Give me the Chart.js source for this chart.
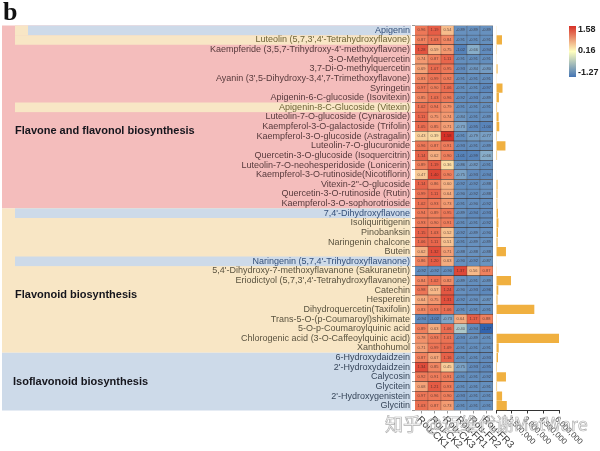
<!DOCTYPE html>
<html>
<head>
<meta charset="utf-8">
<script src="https://cdn.jsdelivr.net/npm/chart.js@4"></script>
<style>
html, body { margin: 0; padding: 0; background: #fff; }
#wrap { position: relative; width: 600px; height: 451px; overflow: hidden; }
canvas { position: absolute; left: 0; top: 0; filter: blur(0.35px); }
</style>
</head>
<body>
<div id="wrap">
  <canvas id="heat" width="600" height="451"></canvas>
  <canvas id="bars" width="600" height="451"></canvas>
</div>
<script>
const compounds = [
  "Apigenin", "Luteolin (5,7,3',4'-Tetrahydroxyflavone)", "Kaempferide (3,5,7-Trihydroxy-4'-methoxyflavone)",
  "3-O-Methylquercetin", "3,7-Di-O-methylquercetin", "Ayanin (3',5-Dihydroxy-3,4',7-Trimethoxyflavone)",
  "Syringetin", "Apigenin-6-C-glucoside (Isovitexin)", "Apigenin-8-C-Glucoside (Vitexin)",
  "Luteolin-7-O-glucoside (Cynaroside)", "Kaempferol-3-O-galactoside (Trifolin)", "Kaempferol-3-O-glucoside (Astragalin)",
  "Luteolin-7-O-glucuronide", "Quercetin-3-O-glucoside (Isoquercitrin)", "Luteolin-7-O-neohesperidoside (Lonicerin)",
  "Kaempferol-3-O-rutinoside(Nicotiflorin)", "Vitexin-2\"-O-glucoside", "Quercetin-3-O-rutinoside (Rutin)",
  "Kaempferol-3-O-sophorotrioside", "7,4'-Dihydroxyflavone", "Isoliquiritigenin", "Pinobanksin", "Naringenin chalcone",
  "Butein", "Naringenin (5,7,4'-Trihydroxyflavanone)", "5,4'-Dihydroxy-7-methoxyflavanone (Sakuranetin)",
  "Eriodictyol (5,7,3',4'-Tetrahydroxyflavanone)", "Catechin", "Hesperetin", "Dihydroquercetin(Taxifolin)",
  "Trans-5-O-(p-Coumaroyl)shikimate", "5-O-p-Coumaroylquinic acid", "Chlorogenic acid (3-O-Caffeoylquinic acid)",
  "Xanthohumol", "6-Hydroxydaidzein", "2'-Hydroxydaidzein", "Calycosin", "Glycitein", "2'-Hydroxygenistein", "Glycitin"
];
const samples = ["Rou-CK1", "Rou-CK2", "Rou-CK3", "Rou-FR1", "Rou-FR2", "Rou-FR3"];

const ck1 = [0.96,0.87,1.28,0.74,0.69,0.83,0.97,0.85,1.02,1.11,1.05,0.43,0.96,1.14,0.89,0.47,1.14,0.99,1.02,0.94,0.93,1.15,1.06,0.62,0.86,-0.92,0.84,0.98,0.64,0.83,-0.94,0.89,0.78,0.71,0.87,1.34,0.92,0.68,0.97,1.03];
const ck2 = [1.19,1.03,0.59,0.87,1.07,0.99,0.90,1.03,0.94,0.75,0.85,0.39,0.87,0.62,1.19,1.40,0.86,1.11,0.93,0.89,0.90,1.03,1.11,1.32,1.20,-0.92,1.02,0.57,0.75,0.93,-1.02,0.63,0.93,0.99,0.67,0.85,0.91,1.21,0.96,0.87];
const ck3 = [0.54,0.84,0.75,1.11,0.95,0.92,1.06,0.96,0.79,0.74,0.71,1.58,0.91,0.90,0.36,0.90,0.60,0.64,0.73,0.95,0.91,0.52,0.51,0.71,0.63,-0.90,0.82,1.24,1.31,1.06,-0.73,1.06,1.01,1.09,1.16,0.45,0.91,0.93,0.90,0.73];
const fr1 = [-0.89,-0.91,-1.02,-0.91,-0.93,-0.91,-0.91,-0.92,-0.91,-0.84,-0.73,-0.91,-0.93,-1.01,-0.86,-0.75,-0.92,-0.90,-0.91,-0.89,-0.91,-0.92,-0.91,-0.88,-0.90,1.37,-0.89,-0.90,-0.92,-0.91,0.64,-0.40,-0.93,-0.91,-0.91,-0.75,-0.91,-0.91,-0.93,-0.91];
const fr2 = [-0.89,-0.91,-0.66,-0.91,-0.84,-0.91,-0.91,-0.93,-0.91,-0.91,-0.95,-0.79,-0.91,-0.99,-0.82,-0.93,-0.92,-0.92,-0.90,-0.94,-0.91,-0.89,-0.89,-0.88,-0.92,0.56,-0.91,-0.93,-0.90,-0.91,1.17,-0.94,-0.89,-0.91,-0.91,-0.93,-0.91,-0.91,-0.91,-0.91];
const fr3 = [-0.89,-0.91,-0.94,-0.91,-0.80,-0.91,-0.97,-0.89,-0.91,-0.89,-1.00,-0.77,-0.89,-0.66,-0.91,-0.94,-0.88,-0.88,-0.92,-0.93,-0.92,-0.90,-0.89,-0.88,-0.87,0.87,-0.89,-0.96,-0.87,-0.91,0.88,-1.27,-0.91,-0.91,-0.93,-0.95,-0.92,-0.91,-0.91,-0.91];
const heatColumns = [ck1, ck2, ck3, fr1, fr2, fr3];

const abundance = [60000,570000,80000,60000,150000,60000,620000,280000,100000,250000,310000,90000,900000,100000,50000,40000,150000,140000,130000,190000,230000,190000,150000,950000,40000,30000,1430000,220000,140000,3650000,25000,30000,6050000,260000,190000,90000,950000,100000,580000,1030000];
const abundanceTicks = ["1,500,000", "3,000,000", "4,500,000", "6,000,000"];

const colorTicks = ["1.58", "0.16", "-1.27"];
const groupNames = ["Flavone and flavonol biosynthesis", "Flavonoid biosynthesis", "Isoflavonoid biosynthesis"];
const groupSizes = [19, 15, 6];
const blueRows = [0, 19, 24];
const yellowRows = [1, 8];

const RED = '#f4bdbc', YELLOW = '#f8e6c5', BLUE = '#cddae9';

function mix(a, b, t) {
  return 'rgb(' + a.map((v, i) => Math.round(v + (b[i] - v) * t)).join(',') + ')';
}
function heatColor(v) {
  const cream = [255,255,191];
  if (v >= 0.16) {
    const t = (v - 0.16) / 1.42;
    return t < 0.5 ? mix(cream, [240,130,95], t * 2) : mix([240,130,95], [215,48,39], (t - 0.5) * 2);
  }
  const t = (0.16 - v) / 1.43;
  return t < 0.5 ? mix(cream, [150,185,205], t * 2) : mix([150,185,205], [50,100,175], (t - 0.5) * 2);
}
function rowGroup(i) {
  return i < groupSizes[0] ? 0 : i < groupSizes[0] + groupSizes[1] ? 1 : 2;
}
function labelColor(i) {
  if (blueRows.includes(i)) return '#34507a';
  if (yellowRows.includes(i)) return '#6f6538';
  return ['#573a3c', '#5a5340', '#37465a'][rowGroup(i)];
}

// coloured strips behind the compound names, group titles, cell numbers
const heatPlugin = {
  id: 'heatExtras',
  beforeDraw(chart) {
    const ctx = chart.ctx, y = chart.scales.y;
    const step = y.getPixelForValue(1) - y.getPixelForValue(0);
    const top = i => y.getPixelForValue(i) - step / 2;
    const right = 411;
    let start = 0;
    [RED, YELLOW, BLUE].forEach((c, g) => {
      ctx.fillStyle = c;
      ctx.fillRect(2, top(start), right - 2, step * groupSizes[g]);
      start += groupSizes[g];
    });
    yellowRows.forEach(i => {
      ctx.fillStyle = YELLOW;
      ctx.fillRect(15, top(i), right - 15, step);
    });
    blueRows.forEach(i => {
      ctx.fillStyle = BLUE;
      ctx.fillRect(i === 0 ? 28 : 15, top(i), right - (i === 0 ? 28 : 15), step);
      if (i === 0) {
        ctx.fillStyle = YELLOW;
        ctx.fillRect(15, top(i), 13, step);
      }
    });
  },
  afterDraw(chart) {
    const ctx = chart.ctx, x = chart.scales.x, y = chart.scales.y;
    ctx.save();
    ctx.textAlign = 'center';
    ctx.textBaseline = 'middle';
    ctx.font = '4px "Liberation Sans"';
    ctx.fillStyle = 'rgba(50,35,35,0.7)';
    heatColumns.forEach((col, c) => {
      col.forEach((v, r) => {
        ctx.fillText(v.toFixed(2), x.getPixelForValue(c + 0.5), y.getPixelForValue(r));
      });
    });
    ctx.textAlign = 'left';
    ctx.font = 'bold 11px "Liberation Sans"';
    ctx.fillStyle = '#15151c';
    ctx.fillText(groupNames[0], 15, 131);
    ctx.fillText(groupNames[1], 15, 295);
    ctx.fillText(groupNames[2], 13, 382);
    ctx.font = 'bold 26px "Liberation Serif"';
    ctx.fillStyle = '#111';
    ctx.textBaseline = 'alphabetic';
    ctx.fillText('b', 3, 20);
    ctx.restore();
    drawSlanted(ctx, samples, samples.map((s, i) => x.getPixelForValue(i + 0.5)), 10);
  }
};

function drawSlanted(ctx, labels, xs, size) {
  ctx.save();
  ctx.font = size + 'px "Liberation Sans"';
  ctx.fillStyle = '#3a3a3a';
  ctx.textAlign = 'left';
  ctx.textBaseline = 'middle';
  labels.forEach((t, i) => {
    ctx.save();
    ctx.translate(xs[i] - 3, 418);
    ctx.rotate(Math.PI / 4);
    ctx.fillText(t, 0, 0);
    ctx.restore();
  });
  ctx.restore();
}

// colour key and the watermark go on the top canvas
const barPlugin = {
  id: 'barExtras',
  afterDraw(chart) {
    const ctx = chart.ctx, x = chart.scales.x;
    drawSlanted(ctx, abundanceTicks, abundanceTicks.map((t, i) => x.getPixelForValue((i + 1) * 1500000)), 8);
    ctx.save();
    const g = ctx.createLinearGradient(0, 26, 0, 77);
    g.addColorStop(0, '#d73027');
    g.addColorStop(0.5, '#ffffbf');
    g.addColorStop(1, '#4575b4');
    ctx.fillStyle = g;
    ctx.fillRect(569, 26, 7, 51);
    ctx.font = 'bold 9px "Liberation Sans"';
    ctx.fillStyle = '#222';
    ctx.textBaseline = 'middle';
    ctx.fillText(colorTicks[0], 578, 30);
    ctx.fillText(colorTicks[1], 578, 51);
    ctx.fillText(colorTicks[2], 578, 73);
    ctx.font = '18px "Noto Sans CJK SC"';
    ctx.lineWidth = 0.7;
    ctx.strokeStyle = 'rgba(130,130,130,0.65)';
    ctx.fillStyle = 'rgba(255,255,255,0.55)';
    ctx.fillText('知乎 @迈维代谢MetWare', 385, 424);
    ctx.strokeText('知乎 @迈维代谢MetWare', 385, 424);
    ctx.restore();
  }
};

new Chart(document.getElementById('heat').getContext('2d'), {
  type: 'bar',
  plugins: [heatPlugin],
  data: {
    labels: compounds,
    datasets: heatColumns.map((col, c) => ({
      label: samples[c],
      data: col.map(() => 1),
      backgroundColor: col.map(heatColor),
      borderColor: '#3a2e2c',
      borderWidth: 0.55,
      barPercentage: 1,
      categoryPercentage: 1
    }))
  },
  options: {
    indexAxis: 'y',
    responsive: false,
    animation: false,
    layout: { padding: { top: 25.5, right: 107, left: 0, bottom: 0 } },
    plugins: { legend: { display: false }, tooltip: { enabled: false } },
    scales: {
      x: {
        stacked: true, min: 0, max: 6,
        afterBuildTicks(s) { s.ticks = samples.map((n, i) => ({ value: i + 0.5 })); },
        afterFit(s) { s.height = 40.5; },
        ticks: { display: false },
        border: { display: false },
        grid: { drawOnChartArea: false, tickLength: 3, color: '#999' }
      },
      y: {
        stacked: true,
        afterFit(s) { s.width = 415; },
        ticks: {
          autoSkip: false,
          padding: 2,
          font: { family: '"Liberation Sans"', size: 9 },
          color: c => labelColor(c.index)
        },
        border: { display: false },
        grid: { drawOnChartArea: false, tickLength: 3, color: '#999' }
      }
    }
  }
});

new Chart(document.getElementById('bars').getContext('2d'), {
  type: 'bar',
  plugins: [barPlugin],
  data: {
    labels: compounds,
    datasets: [{
      data: abundance,
      backgroundColor: '#f0b040',
      barPercentage: 0.95,
      categoryPercentage: 1
    }]
  },
  options: {
    indexAxis: 'y',
    responsive: false,
    animation: false,
    layout: { padding: { top: 25.5, right: 41, left: 496, bottom: 0 } },
    plugins: { legend: { display: false }, tooltip: { enabled: false } },
    scales: {
      x: {
        min: 0, max: 6000000,
        afterBuildTicks(s) { s.ticks = [0, 1, 2, 3, 4].map(i => ({ value: i * 1500000 })); },
        afterFit(s) { s.height = 40.5; },
        ticks: { display: false },
        border: { display: true, color: '#333', width: 1 },
        grid: { drawOnChartArea: false, tickLength: 3, color: '#333' }
      },
      y: {
        display: false
      }
    }
  }
});
</script>
</body>
</html>
